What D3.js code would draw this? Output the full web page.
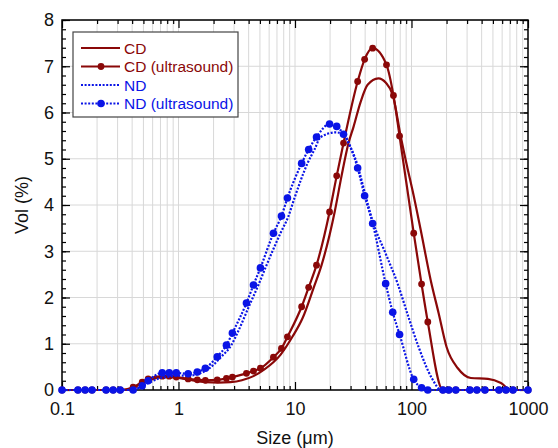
<!DOCTYPE html>
<html>
<head>
<meta charset="utf-8">
<script src="https://cdn.jsdelivr.net/npm/d3@7"></script>
<style>
  body { margin: 0; background: #fff; }
  svg text { font-family: "Liberation Sans", Arial, sans-serif; }
</style>
</head>
<body>
<div id="chart"></div>
<script>
// particle size distributions (size in um, volume %)
const cdSize = [0.1, 0.38, 0.45, 0.55, 0.7, 0.85, 1.0, 1.3, 1.7, 2.2, 2.8, 3.5, 4.4, 5.5, 7.5, 9.5, 11.6, 14.5, 16.9, 21.9, 25.1, 28.8, 31.8, 36.6, 42, 52, 60, 69, 81, 93, 102, 120, 146, 171, 200, 250, 323, 453, 586, 714, 1000];
const cdVol = [0, 0, 0.1, 0.2, 0.27, 0.28, 0.26, 0.21, 0.17, 0.16, 0.17, 0.21, 0.3, 0.45, 0.76, 1.15, 1.55, 2.22, 2.7, 3.85, 4.63, 5.34, 5.69, 6.23, 6.6, 6.74, 6.65, 6.38, 5.47, 4.76, 4.32, 3.46, 2.38, 1.66, 0.93, 0.47, 0.26, 0.24, 0.15, 0, 0];

const cdUsSize = [0.1, 0.137, 0.158, 0.181, 0.239, 0.275, 0.316, 0.408, 0.488, 0.549, 0.725, 0.833, 0.957, 1.21, 1.45, 1.70, 2.15, 2.58, 2.90, 3.83, 4.40, 5.05, 6.53, 7.65, 8.61, 11.4, 13.1, 15.3, 19.8, 22.8, 26.1, 34.5, 39.6, 46.4, 61, 70, 79, 104.5, 122, 138, 186, 209, 240, 317, 364, 427, 564, 647, 743, 1000];
const cdUsVol = [0, 0, 0, 0, 0, 0, 0, 0.06, 0.17, 0.24, 0.3, 0.3, 0.28, 0.24, 0.22, 0.21, 0.22, 0.25, 0.28, 0.36, 0.41, 0.47, 0.71, 0.9, 1.15, 1.8, 2.22, 2.7, 3.85, 4.63, 5.34, 6.67, 7.15, 7.39, 7.03, 6.37, 5.49, 3.39, 2.29, 1.47, 0, 0, 0, 0, 0, 0, 0, 0, 0, 0];

const ndSize = [0.1, 0.4, 0.45, 0.55, 0.7, 0.85, 0.957, 1.21, 1.45, 1.84, 2.33, 2.84, 3.2, 4.14, 4.85, 5.57, 7.5, 8.79, 9.9, 12.8, 14.7, 16.6, 22.3, 26.1, 30, 34.5, 39.6, 46.4, 60, 76, 93, 115, 150, 180, 1000];
const ndVol = [0, 0, 0.04, 0.15, 0.26, 0.29, 0.31, 0.31, 0.34, 0.47, 0.72, 0.97, 1.23, 1.88, 2.27, 2.64, 3.39, 3.76, 4.15, 4.9, 5.2, 5.47, 5.57, 5.53, 5.25, 4.85, 4.28, 3.65, 2.95, 2.3, 1.62, 0.93, 0.25, 0, 0];

const ndUsSize = [0.1, 0.137, 0.158, 0.181, 0.239, 0.275, 0.316, 0.408, 0.488, 0.549, 0.725, 0.833, 0.957, 1.21, 1.45, 1.70, 2.15, 2.58, 2.90, 3.83, 4.40, 5.05, 6.53, 7.65, 8.61, 11.4, 13.1, 15.3, 19.8, 22.8, 26.1, 34.5, 39.6, 46.4, 60, 69, 79, 104.5, 122, 138, 186, 209, 240, 317, 364, 427, 564, 647, 743, 1000];
const ndUsVol = [0, 0, 0, 0, 0, 0, 0, 0, 0.09, 0.2, 0.37, 0.37, 0.37, 0.35, 0.39, 0.47, 0.72, 0.97, 1.23, 1.88, 2.27, 2.64, 3.39, 3.76, 4.15, 4.9, 5.2, 5.47, 5.75, 5.7, 5.53, 4.8, 4.2, 3.6, 2.3, 1.68, 1.2, 0.23, 0.05, 0, 0, 0, 0, 0, 0, 0, 0, 0, 0, 0];

const xTicks = [0.1, 1, 10, 100, 1000];
const yTicks = [0, 1, 2, 3, 4, 5, 6, 7, 8];
const seriesNames = ["CD", "CD (ultrasound)", "ND", "ND (ultrasound)"];

const red = "#8a0808";
const blue = "#0a14e6";

const width = 558, height = 448;
const mLeft = 62, mRight = 528, mTop = 20, mBottom = 390;

const svg = d3.select("#chart").append("svg")
    .attr("width", width)
    .attr("height", height);

const x = d3.scaleLog().domain([0.1, 1000]).range([mLeft, mRight]);
const y = d3.scaleLinear().domain([0, 8]).range([mBottom, mTop]);

// minor values for grid / ticks
let xMinor = [];
for (let i = 0; i < xTicks.length - 1; i++) {
    for (let k = 2; k <= 9; k++) xMinor.push(xTicks[i] * k);
}
const yMinor = d3.range(0, 8.01, 0.2);

// grid
svg.append("g").selectAll("line")
    .data(xMinor.concat(xTicks))
    .join("line")
    .attr("x1", d => x(d)).attr("x2", d => x(d))
    .attr("y1", mTop).attr("y2", mBottom)
    .attr("stroke", "#d8d8d8").attr("stroke-width", 1);

svg.append("g").selectAll("line")
    .data(yTicks)
    .join("line")
    .attr("x1", mLeft).attr("x2", mRight)
    .attr("y1", d => y(d)).attr("y2", d => y(d))
    .attr("stroke", "#d8d8d8").attr("stroke-width", 1);

// axes with inward ticks
function styleAxis(g) {
    g.select(".domain").remove();
    g.selectAll("line").attr("stroke", "#000").attr("stroke-width", 1.2);
    g.selectAll("text").attr("font-size", 18).attr("fill", "#111");
}

svg.append("g").attr("transform", `translate(0,${mBottom})`)
    .call(d3.axisBottom(x).tickValues(xMinor).tickSize(-4).tickFormat(""))
    .call(styleAxis);
svg.append("g").attr("transform", `translate(0,${mBottom})`)
    .call(d3.axisBottom(x).tickValues(xTicks).tickSize(-8).tickPadding(12).tickFormat(d3.format("~g")))
    .call(styleAxis);
svg.append("g").attr("transform", `translate(0,${mTop})`)
    .call(d3.axisTop(x).tickValues(xMinor).tickSize(-4).tickFormat(""))
    .call(styleAxis);
svg.append("g").attr("transform", `translate(0,${mTop})`)
    .call(d3.axisTop(x).tickValues(xTicks).tickSize(-8).tickFormat(""))
    .call(styleAxis);

svg.append("g").attr("transform", `translate(${mLeft},0)`)
    .call(d3.axisLeft(y).tickValues(yMinor).tickSize(-4).tickFormat(""))
    .call(styleAxis);
svg.append("g").attr("transform", `translate(${mLeft},0)`)
    .call(d3.axisLeft(y).tickValues(yTicks).tickSize(-8).tickPadding(8).tickFormat(d3.format("d")))
    .call(styleAxis);
svg.append("g").attr("transform", `translate(${mRight},0)`)
    .call(d3.axisRight(y).tickValues(yMinor).tickSize(-4).tickFormat(""))
    .call(styleAxis);
svg.append("g").attr("transform", `translate(${mRight},0)`)
    .call(d3.axisRight(y).tickValues(yTicks).tickSize(-8).tickFormat(""))
    .call(styleAxis);

// frame
svg.append("rect")
    .attr("x", mLeft).attr("y", mTop)
    .attr("width", mRight - mLeft).attr("height", mBottom - mTop)
    .attr("fill", "none").attr("stroke", "#000").attr("stroke-width", 1.5);

const line = d3.line()
    .x(d => x(d[0]))
    .y(d => y(d[1]))
    .curve(d3.curveMonotoneX);

function drawSeries(sizes, vols, color, dashed, markerR) {
    const pts = sizes.map((s, i) => [s, vols[i]]);
    svg.append("path")
        .datum(pts)
        .attr("d", line)
        .attr("fill", "none")
        .attr("stroke", color)
        .attr("stroke-width", 2.2)
        .attr("stroke-dasharray", dashed ? "2,1.6" : null);
    if (markerR) {
        svg.append("g").selectAll("circle")
            .data(pts)
            .join("circle")
            .attr("cx", d => x(d[0]))
            .attr("cy", d => y(d[1]))
            .attr("r", markerR)
            .attr("fill", color);
    }
}

drawSeries(cdSize, cdVol, red, false, 0);
drawSeries(cdUsSize, cdUsVol, red, false, 3.4);
drawSeries(ndSize, ndVol, blue, true, 0);
drawSeries(ndUsSize, ndUsVol, blue, true, 3.8);

// axis titles
svg.append("text")
    .attr("x", 295).attr("y", 444)
    .attr("text-anchor", "middle")
    .attr("font-size", 18).attr("fill", "#111")
    .text("Size (μm)");

svg.append("text")
    .attr("transform", "translate(28,205) rotate(-90)")
    .attr("text-anchor", "middle")
    .attr("font-size", 18).attr("fill", "#111")
    .text("Vol (%)");

// legend
const legend = svg.append("g");
legend.append("rect")
    .attr("x", 73).attr("y", 32)
    .attr("width", 165).attr("height", 85)
    .attr("fill", "#fff").attr("stroke", "#444").attr("stroke-width", 1.2);

const legColors = [red, red, blue, blue];
const legDash = [false, false, true, true];
const legMarker = [0, 3.4, 0, 3.8];

seriesNames.forEach((name, i) => {
    const yy = 48 + i * 18.5;
    legend.append("line")
        .attr("x1", 81).attr("x2", 120)
        .attr("y1", yy).attr("y2", yy)
        .attr("stroke", legColors[i]).attr("stroke-width", 2.2)
        .attr("stroke-dasharray", legDash[i] ? "2,1.6" : null);
    if (legMarker[i]) {
        legend.append("circle")
            .attr("cx", 101).attr("cy", yy).attr("r", legMarker[i])
            .attr("fill", legColors[i]);
    }
    legend.append("text")
        .attr("x", 124).attr("y", yy + 5.5)
        .attr("font-size", 15.5)
        .attr("fill", legColors[i])
        .text(name);
});
</script>
</body>
</html>
